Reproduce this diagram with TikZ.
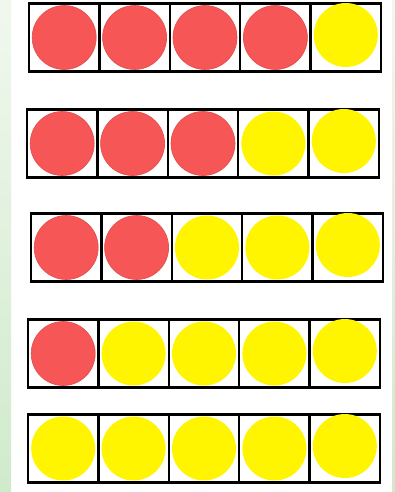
\documentclass[tikz,border=0pt]{standalone}
\definecolor{cred}{RGB}{246,86,86}
\definecolor{credge}{RGB}{225,75,75}
\definecolor{cyel}{RGB}{255,245,0}
\definecolor{gtop}{RGB}{240,248,238}
\definecolor{gbot}{RGB}{208,234,204}
\begin{document}
\begin{tikzpicture}[x=1pt,y=-1pt,
  cellbox/.style={draw=black,line width=2.4pt,minimum width=70.4pt,minimum height=68pt,inner sep=0pt,outer sep=0pt},
  dotred/.style={circle,fill=cred,draw=credge,line width=0.6pt,minimum size=64pt,inner sep=0pt},
  dotyel/.style={circle,fill=cyel,minimum size=64pt,inner sep=0pt}]
\useasboundingbox (0,0) rectangle (395,492);
\fill[white] (0,0) rectangle (395,492);
\shade[top color=gtop,bottom color=gbot] (0,0) rectangle (11,492);
\shade[top color=gtop,bottom color=gbot] (392,0) rectangle (395,492);
\foreach \r/\lx/\ty/\nr in {1/29/3/4, 2/27/109/3, 3/31/213/2, 4/28/319/1, 5/28/414/0}{
  \foreach \c in {1,...,5}{
    \node[cellbox] (cell-\r-\c) at ({\lx+70.4*(\c-0.5)},{\ty+34.5}) {};
  }
  \foreach \c in {1,...,5}{
    \ifnum\c>\nr \def\dstyle{dotyel}\else\def\dstyle{dotred}\fi
    \ifnum\c=5
      \node[\dstyle] (dot-\r-\c) at ([yshift=2.5pt]cell-\r-\c.center) {};
    \else
      \node[\dstyle] (dot-\r-\c) at (cell-\r-\c.center) {};
    \fi
  }
}
\end{tikzpicture}
\end{document}
